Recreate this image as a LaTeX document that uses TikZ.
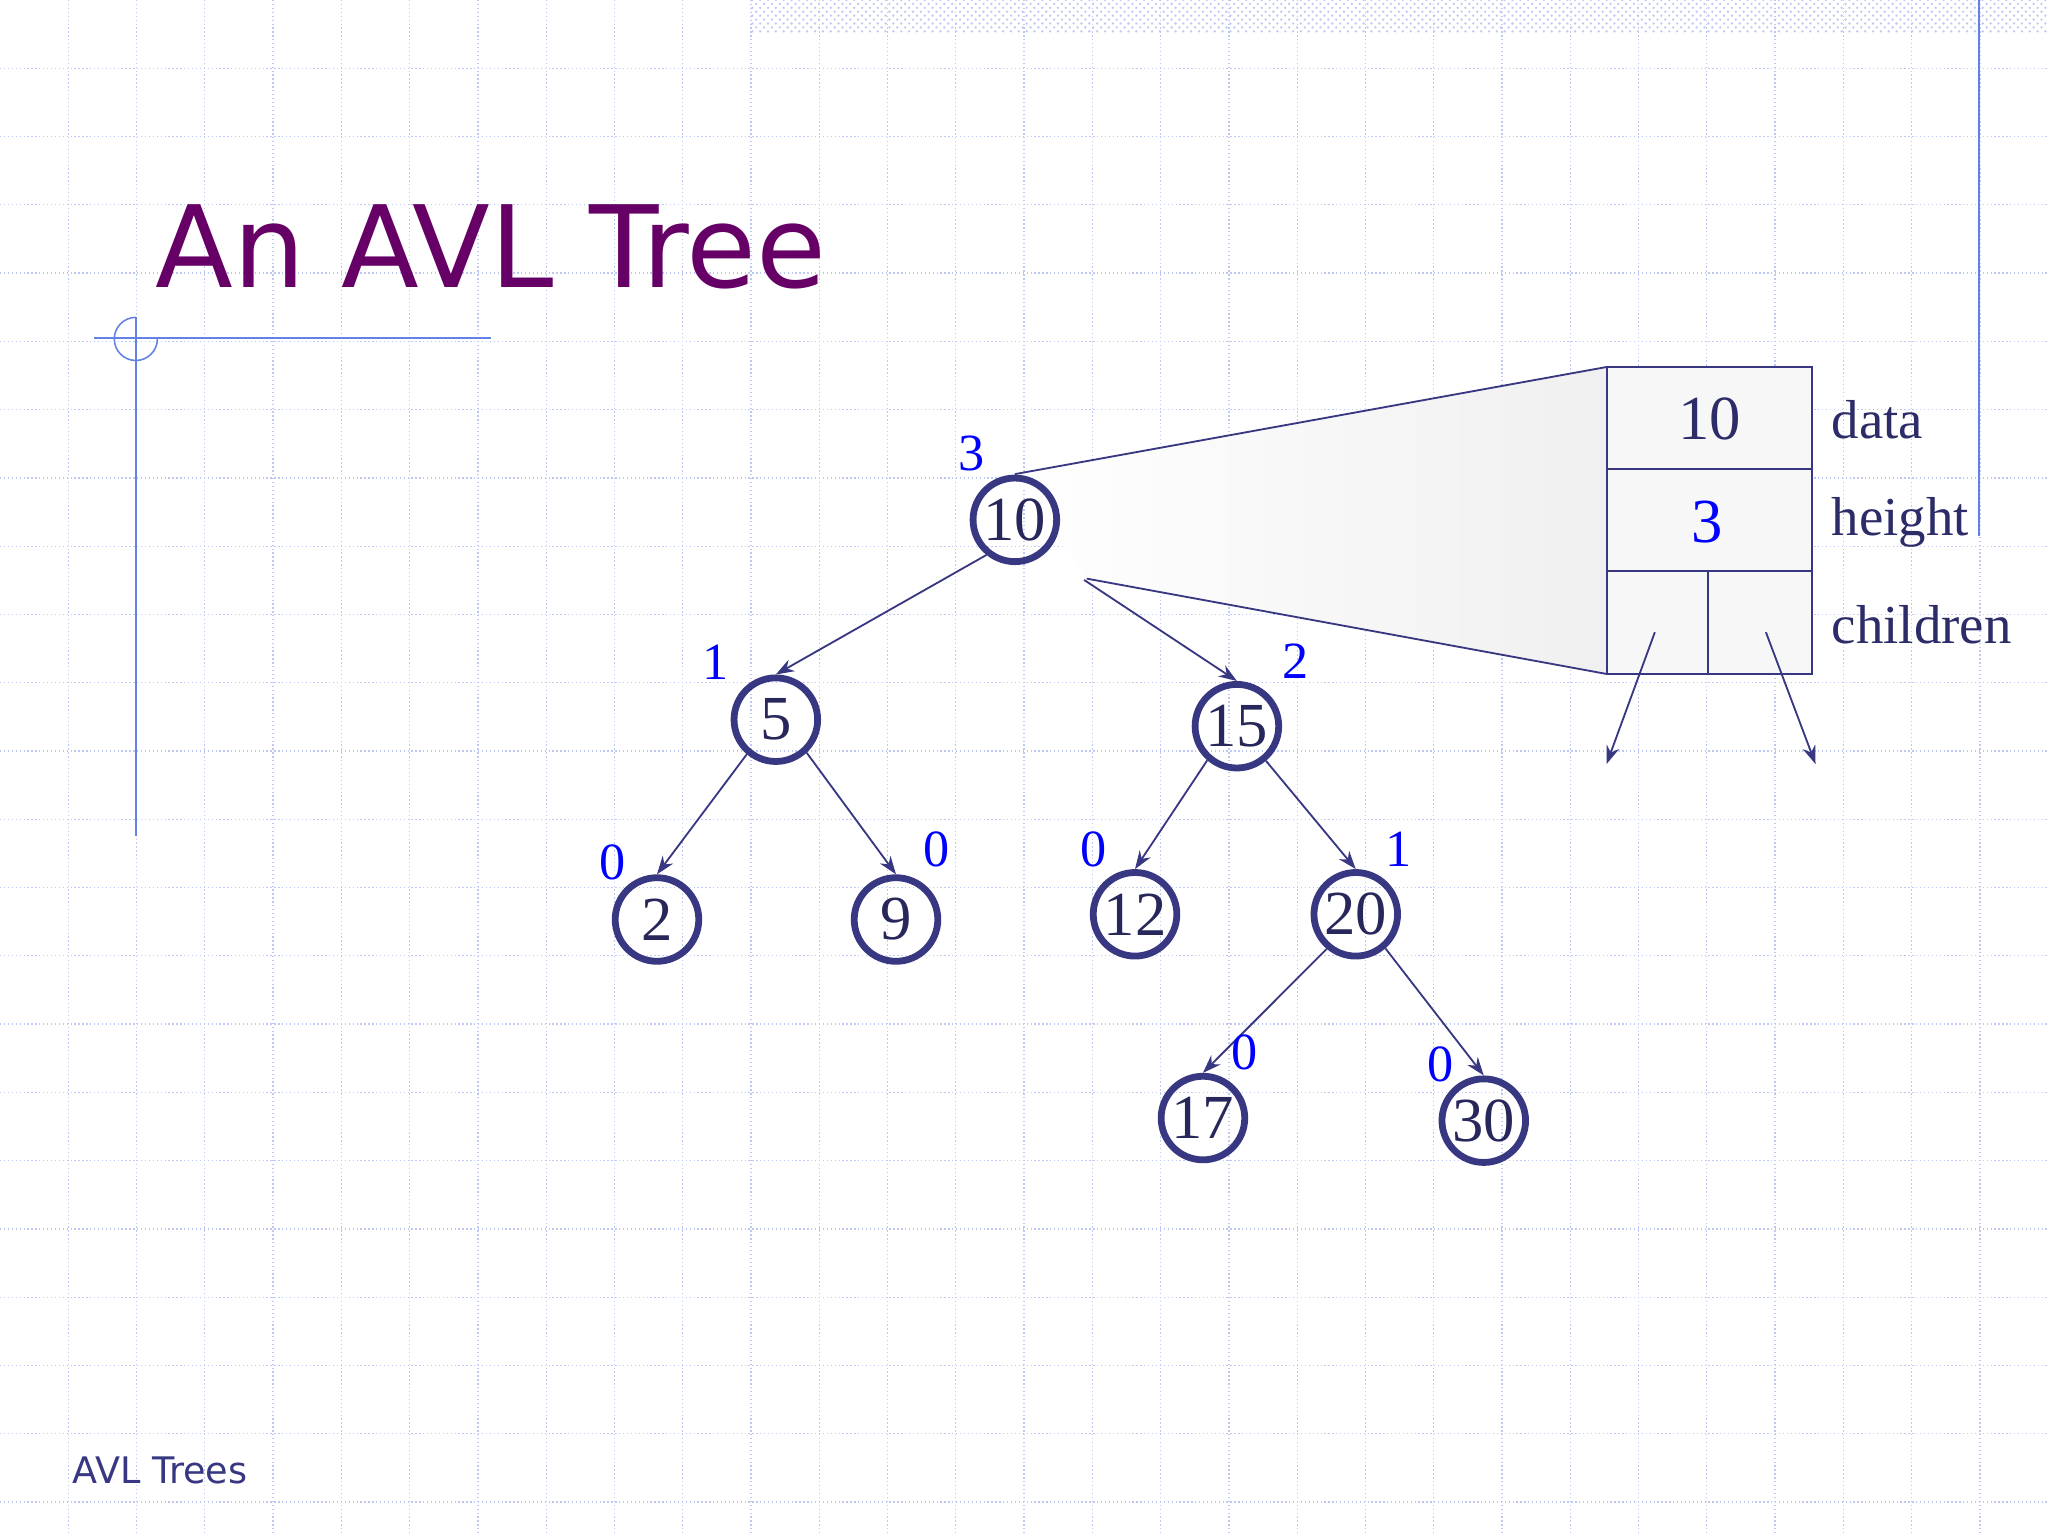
\documentclass[tikz,border=0pt]{standalone}
\usepackage{fontspec}
\setmainfont{Liberation Serif}
\newfontfamily\sansf{DejaVu Sans}
\usetikzlibrary{arrows.meta,patterns}
\definecolor{gridc}{RGB}{190,200,245}
\definecolor{nodec}{RGB}{55,55,130}
\definecolor{titlec}{RGB}{102,0,102}
\definecolor{decoc}{RGB}{100,130,230}
\begin{document}
\begin{tikzpicture}[x=0.5pt,y=-0.5pt,
  tn/.style={circle,draw=nodec,line width=2.6pt,minimum size=32pt,inner sep=0pt,font=\fontsize{24}{24}\selectfont,text=nodec!70!black},
  ht/.style={text=blue,font=\fontsize{20}{20}\selectfont,inner sep=0pt},
  edge/.style={draw=nodec,line width=0.7pt,-{Stealth[length=7pt,width=5pt]}},
  lab/.style={text=nodec!80!black,font=\fontsize{21}{21}\selectfont,anchor=west,inner sep=0pt}]
\useasboundingbox (0,0) rectangle (1568,1176);
\fill[white] (0,0) rectangle (1568,1176);
\foreach \i in {1,...,29} \draw[gridc,densely dotted,line width=0.5pt] (\i*52.27,0) -- (\i*52.27,1176);
\foreach \j in {1,...,22} \draw[gridc,densely dotted,line width=0.5pt] (0,\j*52.27) -- (1568,\j*52.27);
\fill[pattern=crosshatch dots,pattern color=gridc] (575,0) rectangle (1568,25);
\draw[decoc,line width=0.6pt] (1515,0) -- (1515,410);
\draw[decoc,line width=0.6pt] (72,259) -- (376,259);
\draw[decoc,line width=0.6pt] (104,243) -- (104,640);
\draw[decoc,line width=0.6pt] (104,243) arc[start angle=-90,end angle=-360,radius=16.5];
\node[anchor=base west,inner sep=0pt,text=titlec,font=\sansf\fontsize{43.5}{43.5}\selectfont] (title) at (119,220) {An AVL Tree};
\node[anchor=base west,inner sep=0pt,text=nodec,font=\sansf\fontsize{14}{14}\selectfont] (foot) at (55,1136) {AVL Trees};
% funnel
\shade[left color=white,right color=black!6] (777,363) -- (1230,281) -- (1230,516) -- (832,443) -- cycle;
\draw[nodec,line width=0.7pt] (777,363) -- (1230,281);
\draw[nodec,line width=0.7pt] (832,443) -- (1230,516);
% record box
\fill[black!3] (1230,281) rectangle (1387,516);
\draw[nodec,line width=0.8pt] (1230,281) rectangle (1387,516);
\draw[nodec,line width=0.8pt] (1230,359) -- (1387,359) (1230,437) -- (1387,437) (1308,437) -- (1308,516);
\node[text=nodec!80!black,font=\fontsize{24}{24}\selectfont] (bd) at (1309,321) {10};
\node[text=blue,font=\fontsize{24}{24}\selectfont] (bh) at (1307,400) {3};
\coordinate (cl) at (1267,484); \coordinate (cle) at (1230,585);
\coordinate (cr) at (1352,484); \coordinate (cre) at (1390,585);
\draw[edge] (cl) -- (cle);
\draw[edge] (cr) -- (cre);
\node[lab] (ld) at (1402,321) {data};
\node[lab] (lh) at (1402,400) {height};
\node[lab] (lc) at (1402,478) {children};
% tree
\node[tn] (n10) at (777,398) {10};
\node[tn] (n5) at (594,551) {5};
\node[tn] (n15) at (947,556) {15};
\node[tn] (n2) at (503,704) {2};
\node[tn] (n9) at (686,704) {9};
\node[tn] (n12) at (869,700) {12};
\node[tn] (n20) at (1038,700) {20};
\node[tn] (n17) at (921,856) {17};
\node[tn] (n30) at (1136,858) {30};
\coordinate (s15) at (830,444);
\draw[edge] (n10.-129) -- (n5.north);
\draw[edge] (s15) -- (n15.north);
\draw[edge] (n5.-130) -- (n2.north);
\draw[edge] (n5.-47) -- (n9.north);
\draw[edge] (n15.-131) -- (n12.north);
\draw[edge] (n15.-50) -- (n20.north);
\draw[edge] (n20.-130) -- (n17.north);
\draw[edge] (n20.-49) -- (n30.north);
\node[ht] (h10) at (744,347) {3};
\node[ht] (h5) at (548,507) {1};
\node[ht] (h15) at (992,506) {2};
\node[ht] (h2) at (469,660) {0};
\node[ht] (h9) at (717,650) {0};
\node[ht] (h12) at (837,650) {0};
\node[ht] (h20) at (1071,650) {1};
\node[ht] (h17) at (953,806) {0};
\node[ht] (h30) at (1103,815) {0};
\end{tikzpicture}
\end{document}
